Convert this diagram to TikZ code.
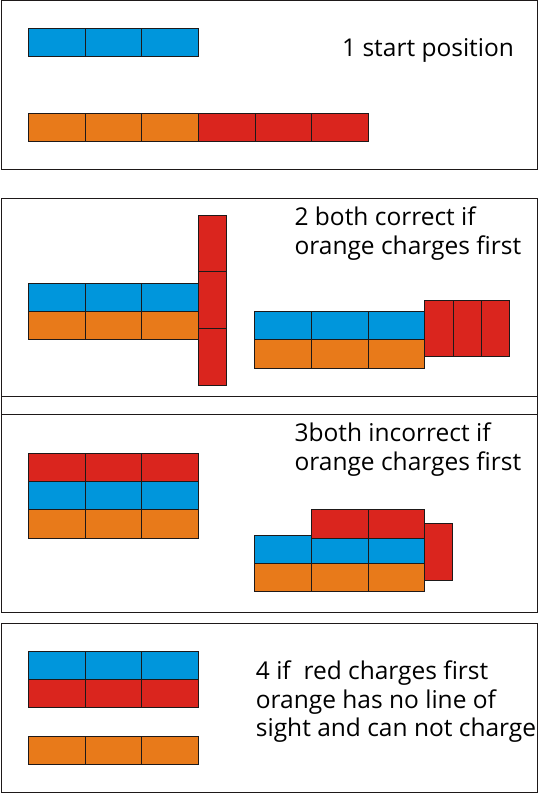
\documentclass[tikz,border=0pt]{standalone}
\usepackage{fontspec}
\setmainfont{Open Sans}[Ligatures={NoCommon}]
\definecolor{cblue}{RGB}{0,150,220}
\definecolor{corange}{RGB}{232,122,26}
\definecolor{cred}{RGB}{218,37,30}
\definecolor{cline}{RGB}{30,25,25}
\newcommand\tilegrid[7]{%
  \foreach \i in {1,...,#3}{\foreach \j in {1,...,#4}{%
    \draw[cell,fill=#7] ({#1+(\i-1)*#5},{#2+(\j-1)*#6}) rectangle +(#5,#6);}}}
\begin{document}
\begin{tikzpicture}[x=1pt,y=-1pt,
  cell/.style={draw=cline,line width=0.7pt},
  frame/.style={draw=cline,line width=0.9pt},
  lbl/.style={anchor=base west,inner sep=0pt,font=\fontsize{24.5}{28.4}\selectfont,align=left}]
\useasboundingbox (0,0) rectangle (538,793);
% panel 1
\draw[frame] (1,0.8) rectangle (537,169);
\tilegrid{28.5}{28.5}{3}{1}{56.63}{28}{cblue}
\tilegrid{28.5}{113.3}{3}{1}{56.63}{28}{corange}
\tilegrid{198.4}{113.3}{3}{1}{56.63}{28}{cred}
\node[lbl] (t1) at (342,56.7) {1 start position};
% panel 2 and 3 frames
\draw[frame] (1,198.3) rectangle (537,414.3);
\draw[frame] (1,396.7) rectangle (537,612);
% panel 2
\tilegrid{28.5}{283.3}{3}{1}{56.63}{28}{cblue}
\tilegrid{28.5}{311.3}{3}{1}{56.63}{28}{corange}
\tilegrid{198.4}{215}{1}{3}{28.4}{56.7}{cred}
\tilegrid{254.3}{311.3}{3}{1}{56.83}{28.5}{cblue}
\tilegrid{254.3}{339.8}{3}{1}{56.83}{28.5}{corange}
\tilegrid{424.8}{300.3}{3}{1}{28.27}{56}{cred}
\node[lbl] (t2) at (294.4,254.3) {2 both correct if\\orange charges first};
% panel 3
\tilegrid{28.5}{453.3}{3}{1}{56.63}{28}{cred}
\tilegrid{28.5}{481.3}{3}{1}{56.63}{28}{cblue}
\tilegrid{28.5}{509.3}{3}{1}{56.63}{29}{corange}
\tilegrid{254.3}{535.3}{3}{1}{56.83}{28}{cblue}
\tilegrid{254.3}{563.3}{3}{1}{56.83}{28}{corange}
\tilegrid{311.13}{509.3}{2}{1}{56.83}{28.7}{cred}
\tilegrid{424.8}{523.3}{1}{1}{27.8}{57}{cred}
\node[lbl] (t3) at (294.4,470) {3both incorrect if\\orange charges first};
% panel 4
\draw[frame] (1,623.3) rectangle (537,792.3);
\tilegrid{28.5}{651.3}{3}{1}{56.63}{28}{cblue}
\tilegrid{28.5}{679.3}{3}{1}{56.63}{28}{cred}
\tilegrid{28.5}{736.3}{3}{1}{56.63}{28}{corange}
\node[lbl] (t4) at (255.7,736.7) {4 if\ \ red charges first\\orange has no line of\\sight and can not charge};
\end{tikzpicture}
\end{document}
